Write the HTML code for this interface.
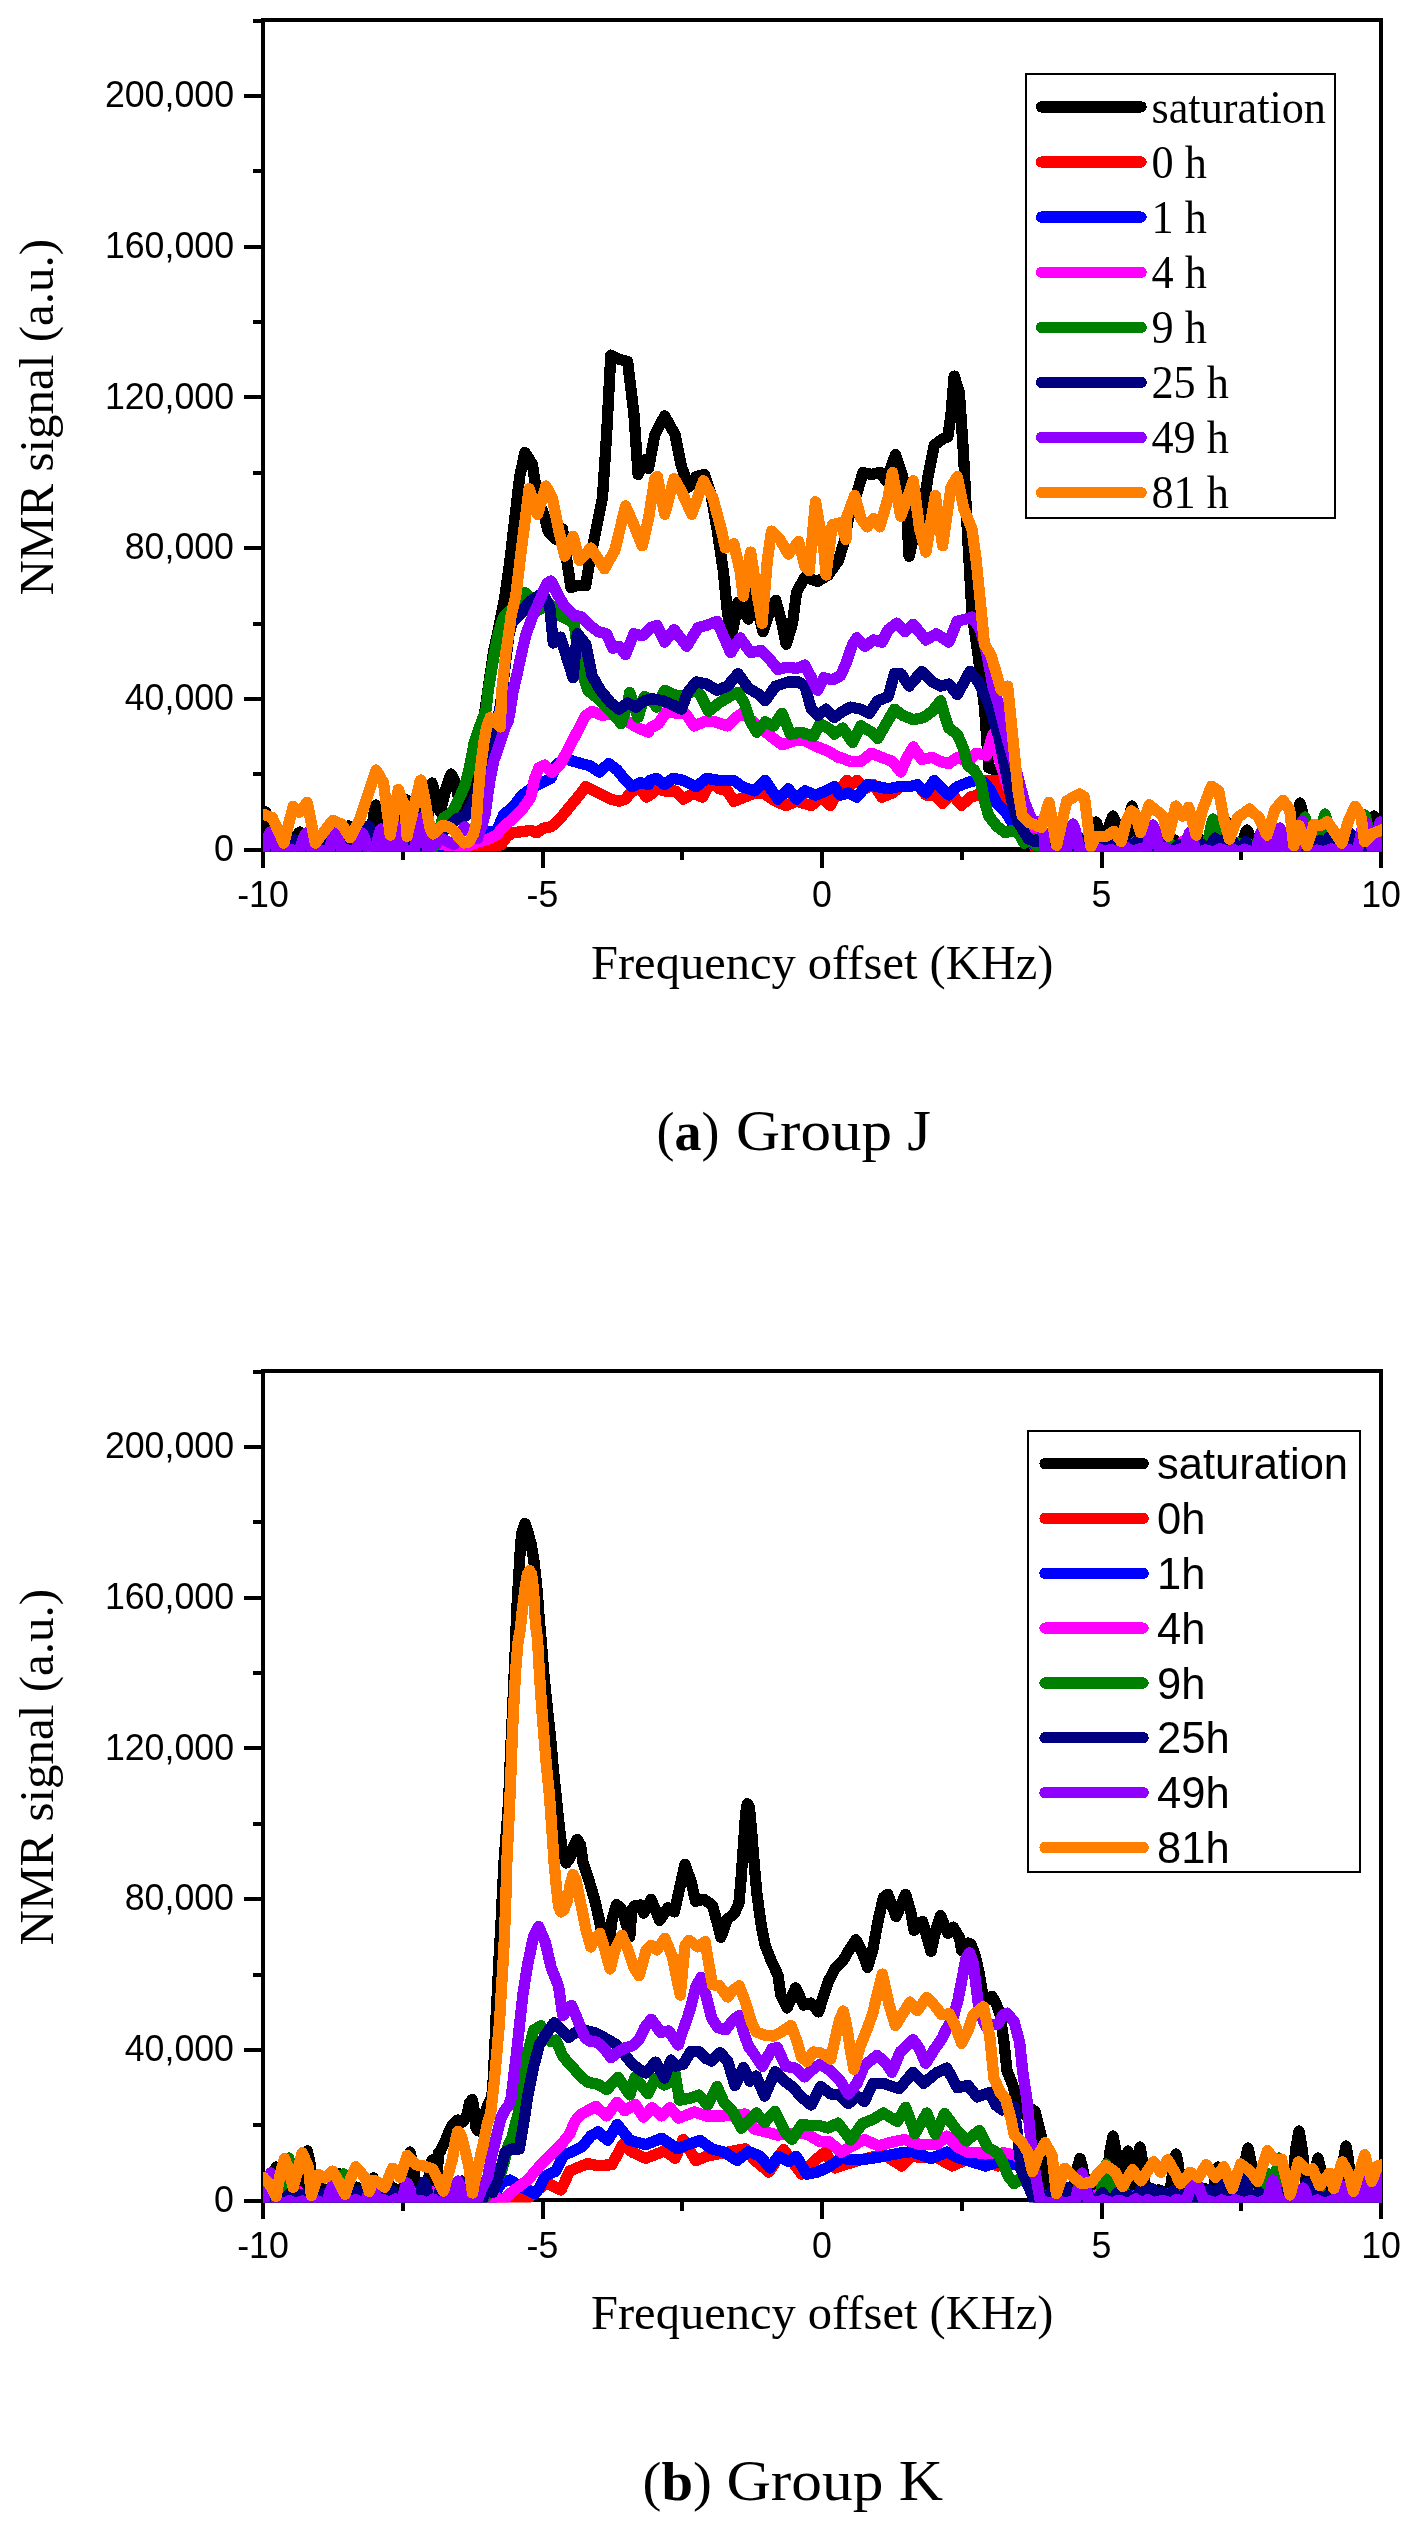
<!DOCTYPE html><html><head><meta charset="utf-8"><style>html,body{margin:0;padding:0;background:#fff;}svg{display:block;will-change:transform;}.tl{font-family:"Liberation Sans",sans-serif;font-size:37.5px;fill:#000;}.ls{font-family:"Liberation Sans",sans-serif;font-size:43.5px;fill:#000;}.lr{font-family:"Liberation Serif",serif;font-size:46px;fill:#000;}.at{font-family:"Liberation Serif",serif;font-size:48.5px;fill:#000;}.at2{font-family:"Liberation Serif",serif;font-size:49px;fill:#000;}.cap{font-family:"Liberation Serif",serif;font-size:54px;fill:#000;}.cap2{font-family:"Liberation Serif",serif;font-size:56.5px;fill:#000;}</style></head><body>
<svg xmlns="http://www.w3.org/2000/svg" width="1419" height="2530" viewBox="0 0 1419 2530" shape-rendering="crispEdges">
<rect width="1419" height="2530" fill="#fff"/>
<defs><clipPath id="c1"><rect x="263" y="20" width="1119" height="831.5"/></clipPath><clipPath id="c2"><rect x="263" y="1371" width="1119" height="831.5"/></clipPath></defs>
<rect x="263" y="20" width="1118" height="829.5" fill="none" stroke="#000" stroke-width="4"/>
<line x1="261" y1="849.5" x2="1383" y2="849.5" stroke="#000" stroke-width="5"/>
<line x1="244" y1="849.5" x2="263" y2="849.5" stroke="#000" stroke-width="4"/>
<line x1="253" y1="774.1" x2="263" y2="774.1" stroke="#000" stroke-width="4"/>
<line x1="244" y1="698.8" x2="263" y2="698.8" stroke="#000" stroke-width="4"/>
<line x1="253" y1="623.5" x2="263" y2="623.5" stroke="#000" stroke-width="4"/>
<line x1="244" y1="548.1" x2="263" y2="548.1" stroke="#000" stroke-width="4"/>
<line x1="253" y1="472.8" x2="263" y2="472.8" stroke="#000" stroke-width="4"/>
<line x1="244" y1="397.4" x2="263" y2="397.4" stroke="#000" stroke-width="4"/>
<line x1="253" y1="322.1" x2="263" y2="322.1" stroke="#000" stroke-width="4"/>
<line x1="244" y1="246.7" x2="263" y2="246.7" stroke="#000" stroke-width="4"/>
<line x1="253" y1="171.4" x2="263" y2="171.4" stroke="#000" stroke-width="4"/>
<line x1="244" y1="96.0" x2="263" y2="96.0" stroke="#000" stroke-width="4"/>
<line x1="253" y1="20.7" x2="263" y2="20.7" stroke="#000" stroke-width="4"/>
<line x1="263.0" y1="849.5" x2="263.0" y2="867.5" stroke="#000" stroke-width="4"/>
<line x1="402.8" y1="849.5" x2="402.8" y2="859.5" stroke="#000" stroke-width="4"/>
<line x1="542.5" y1="849.5" x2="542.5" y2="867.5" stroke="#000" stroke-width="4"/>
<line x1="682.2" y1="849.5" x2="682.2" y2="859.5" stroke="#000" stroke-width="4"/>
<line x1="822.0" y1="849.5" x2="822.0" y2="867.5" stroke="#000" stroke-width="4"/>
<line x1="961.8" y1="849.5" x2="961.8" y2="859.5" stroke="#000" stroke-width="4"/>
<line x1="1101.5" y1="849.5" x2="1101.5" y2="867.5" stroke="#000" stroke-width="4"/>
<line x1="1241.2" y1="849.5" x2="1241.2" y2="859.5" stroke="#000" stroke-width="4"/>
<line x1="1381.0" y1="849.5" x2="1381.0" y2="867.5" stroke="#000" stroke-width="4"/>
<text transform="translate(234,860.7) scale(0.953,1)" class="tl" text-anchor="end">0</text>
<text transform="translate(234,710.0) scale(0.953,1)" class="tl" text-anchor="end">40,000</text>
<text transform="translate(234,559.3) scale(0.953,1)" class="tl" text-anchor="end">80,000</text>
<text transform="translate(234,408.6) scale(0.953,1)" class="tl" text-anchor="end">120,000</text>
<text transform="translate(234,257.9) scale(0.953,1)" class="tl" text-anchor="end">160,000</text>
<text transform="translate(234,107.2) scale(0.953,1)" class="tl" text-anchor="end">200,000</text>
<text transform="translate(263.0,906.6) scale(0.953,1)" class="tl" text-anchor="middle">-10</text>
<text transform="translate(542.5,906.6) scale(0.953,1)" class="tl" text-anchor="middle">-5</text>
<text transform="translate(822.0,906.6) scale(0.953,1)" class="tl" text-anchor="middle">0</text>
<text transform="translate(1101.5,906.6) scale(0.953,1)" class="tl" text-anchor="middle">5</text>
<text transform="translate(1381.0,906.6) scale(0.953,1)" class="tl" text-anchor="middle">10</text>
<g clip-path="url(#c1)" fill="none" stroke-width="11.3" stroke-linejoin="round" stroke-linecap="round" shape-rendering="crispEdges">
<path d="M260.7,840.5 263.9,819.1 265.7,812.0 267.4,819.1 270.7,840.5 275.4,836.0 281.2,839.9 288.2,837.2 292.5,839.7 294.0,840.5 297.9,834.1 300.0,832.0 302.1,834.1 306.0,840.5 309.3,836.8 316.9,839.7 321.2,837.4 327.4,839.7 332.9,836.9 338.6,840.5 342.7,840.5 346.6,829.6 348.7,826.0 350.8,829.6 354.7,840.5 360.5,840.2 364.8,835.0 370.0,840.5 373.9,813.9 376.0,805.0 378.1,813.9 382.0,840.5 383.2,840.4 388.6,835.3 395.3,839.7 401.0,835.0 402.0,840.5 405.2,810.1 407.0,800.0 408.8,810.1 412.0,840.5 414.0,834.9 416.0,840.5 419.2,819.1 421.0,812.0 422.8,819.1 426.0,840.5 432.0,783.0 436.0,797.0 440.0,812.0 443.0,801.0 446.0,788.0 451.0,774.0 455.0,781.0 458.0,796.0 461.0,811.0 465.0,810.0 470.0,795.0 473.5,781.0 477.0,765.0 480.0,745.0 483.0,724.0 486.5,700.0 490.0,676.0 493.5,652.0 497.0,636.0 500.4,619.0 505.0,596.0 510.0,560.0 519.7,476.6 524.9,452.5 532.3,464.1 537.5,497.6 543.8,514.3 548.0,531.1 556.4,539.5 562.6,529.0 566.8,560.4 571.0,587.7 577.3,585.6 585.7,585.6 589.9,560.4 596.2,529.0 602.5,497.6 606.6,434.7 610.8,355.1 619.2,359.3 627.6,361.4 633.9,413.8 638.1,474.5 644.3,459.9 648.5,468.3 654.8,434.7 664.7,415.9 675.1,434.7 681.4,466.2 688.8,487.1 696.1,476.6 704.5,474.5 710.8,493.4 717.0,529.0 723.3,570.9 727.5,612.8 731.7,635.8 738.0,602.3 744.3,612.8 748.5,619.1 752.6,591.9 763.1,631.7 771.5,606.5 775.7,600.2 782.0,623.3 786.2,644.2 792.5,623.3 796.6,591.9 805.0,577.2 817.6,581.4 828.1,575.1 838.5,560.4 844.8,539.5 848.4,518.5 856.8,493.4 863.0,472.5 871.4,474.5 879.8,472.5 886.1,480.8 895.5,454.6 902.8,476.6 907.0,518.5 909.1,556.2 915.4,529.0 921.7,518.5 928.0,476.6 934.3,445.2 942.6,438.9 947.9,436.8 951.0,413.8 954.2,376.1 959.4,392.8 963.6,455.7 967.8,539.5 972.0,612.8 978.3,656.8 984.5,707.1 988.7,767.8 995.0,769.9 1003.4,790.9 1011.8,811.8 1022.3,832.8 1034.8,843.2 1040.0,838.6 1047.0,843.5 1051.1,838.9 1057.4,843.0 1062.3,839.5 1068.1,843.1 1072.5,839.9 1077.6,843.0 1084.8,838.6 1089.0,843.5 1093.5,827.4 1096.0,822.0 1098.5,827.4 1103.0,843.5 1104.0,840.0 1105.0,843.5 1110.2,822.9 1113.0,816.0 1115.8,822.9 1121.0,843.5 1124.7,839.7 1125.0,843.5 1129.5,815.4 1132.0,806.0 1134.5,815.4 1139.0,843.5 1142.8,842.9 1149.6,839.1 1156.1,843.2 1163.2,838.6 1167.5,842.9 1173.8,839.8 1179.4,843.1 1186.3,839.7 1192.9,843.2 1199.6,838.8 1205.0,843.1 1211.9,839.2 1217.3,843.3 1222.0,843.5 1225.2,827.4 1227.0,822.0 1228.8,827.4 1232.0,843.5 1236.3,842.8 1242.0,843.5 1245.2,833.4 1247.0,830.0 1248.8,833.4 1252.0,843.5 1253.8,840.2 1258.3,843.1 1265.3,839.4 1269.4,842.9 1275.6,838.7 1280.1,842.9 1284.1,839.4 1288.9,843.3 1292.0,843.5 1297.2,813.1 1300.0,803.0 1302.8,813.1 1308.0,843.5 1312.6,843.2 1318.8,840.9 1323.9,843.4 1329.9,840.8 1336.9,843.5 1343.2,840.9 1347.9,842.9 1352.3,840.5 1358.4,843.2 1362.4,838.5 1366.7,843.5 1368.0,843.5 1371.9,822.9 1374.0,816.0 1376.1,822.9 1380.0,843.5 1383.0,840.9" stroke="#000000"/>
<path d="M263.0,847.0 269.1,849.1 275.8,847.1 280.4,849.4 285.0,846.0 289.2,849.2 293.8,846.9 299.1,849.0 304.9,847.5 309.7,849.4 316.4,845.9 322.9,849.0 329.2,845.6 335.7,849.3 342.4,846.5 348.7,849.2 354.0,846.8 359.2,849.3 363.5,845.9 370.0,848.9 376.1,846.4 382.4,849.4 388.5,846.6 392.9,849.4 398.5,847.0 403.9,849.1 409.0,847.2 414.5,849.4 419.1,847.1 424.2,849.5 430.2,845.6 435.3,849.1 442.2,847.4 446.6,849.0 453.2,846.2 457.6,849.3 464.3,845.7 477.4,849.3 486.9,848.2 501.1,844.6 507.1,836.3 513.0,832.7 522.5,831.6 530.8,830.4 536.7,832.7 543.8,828.0 551.0,826.8 558.1,820.9 579.4,795.1 585.7,786.7 594.1,790.9 602.5,795.1 610.8,799.2 619.2,801.3 625.5,799.2 631.8,790.9 640.2,788.8 646.4,797.2 652.7,793.0 656.3,788.8 664.7,790.9 675.1,790.9 683.5,799.2 694.0,793.0 702.4,797.2 711.8,780.4 719.1,788.8 727.5,790.9 733.8,801.3 744.3,797.2 754.7,793.0 763.1,793.0 775.7,801.3 786.2,805.5 796.6,801.3 811.3,805.5 821.8,797.2 830.2,805.5 838.5,790.9 846.9,780.4 848.4,786.7 856.8,780.4 865.1,788.8 873.5,784.6 881.9,797.2 892.4,793.0 900.8,786.7 909.1,786.7 917.5,784.6 925.9,795.1 934.3,795.1 942.6,803.4 951.0,793.0 961.5,805.5 969.9,797.2 978.3,795.1 986.6,780.4 995.0,780.4 1003.4,795.1 1011.8,811.8 1020.2,828.6 1028.5,839.0 1035.0,847.3 1041.2,849.1 1048.1,847.0 1052.8,849.1 1058.8,846.9 1064.9,849.3 1071.4,847.3 1075.9,849.0 1081.0,847.0 1087.5,849.1 1091.8,846.4 1097.9,849.4 1103.9,847.3 1108.8,849.5 1113.4,845.5 1118.5,848.9 1123.8,846.3 1130.6,849.1 1134.8,846.3 1140.7,849.4 1144.9,845.8 1150.4,849.4 1155.8,847.1 1162.3,849.2 1166.4,845.9 1170.6,849.3 1174.5,846.0 1178.8,849.2 1182.9,846.5 1189.0,849.2 1194.4,846.5 1199.7,849.1 1203.8,846.6 1208.5,849.0 1215.4,847.4 1219.7,849.1 1225.5,847.5 1231.7,848.9 1236.9,846.8 1242.6,848.9 1247.3,846.9 1251.8,849.1 1257.2,847.0 1262.3,849.5 1267.2,845.5 1273.0,849.3 1280.0,846.8 1284.6,849.5 1289.0,847.1 1293.6,849.0 1298.3,847.0 1304.1,848.9 1309.0,846.0 1314.0,849.2 1319.8,845.6 1326.2,849.2 1332.8,846.8 1337.9,848.9 1343.6,846.0 1348.5,849.0 1354.3,847.0 1361.3,849.2 1366.2,847.0 1370.4,849.4 1376.6,847.2 1381.3,849.2" stroke="#ff0000"/>
<path d="M263.0,845.1 268.7,848.7 274.1,845.0 279.9,849.3 285.4,844.6 291.9,849.4 296.7,846.2 303.3,848.9 307.2,843.6 314.3,848.9 320.2,846.0 324.1,849.0 328.1,845.9 332.7,849.5 338.1,845.2 344.8,849.0 350.7,845.0 356.8,849.1 361.5,843.5 368.7,848.7 374.8,845.6 379.5,849.2 383.5,844.2 388.7,848.7 393.8,843.6 400.5,849.5 405.0,843.8 410.4,848.6 415.6,846.3 421.5,848.8 426.3,846.2 431.2,848.6 437.6,846.1 442.2,849.4 446.3,844.1 450.7,849.0 456.0,845.9 465.6,847.0 483.4,832.7 491.7,831.6 496.4,831.6 503.5,815.0 513.0,806.7 522.5,794.8 530.8,788.9 536.7,785.3 543.8,781.7 551.0,778.2 556.9,764.0 566.4,759.2 581.5,763.6 589.9,765.7 599.3,772.0 608.7,763.6 617.1,769.9 625.5,780.4 631.8,786.7 640.2,782.5 648.5,784.6 650.0,780.4 656.3,778.3 664.7,784.6 673.0,778.3 683.5,780.4 696.1,786.7 706.6,778.3 719.1,780.4 733.8,780.4 742.2,786.7 754.7,790.9 765.2,780.4 777.8,799.2 788.3,788.8 796.6,799.2 805.0,790.9 815.5,795.1 826.0,790.9 834.3,786.7 840.0,795.1 848.4,793.0 856.8,797.2 867.2,784.6 877.7,786.7 888.2,788.8 898.7,786.7 909.1,786.7 917.5,784.6 925.9,793.0 934.3,780.4 942.6,788.8 948.9,795.1 957.3,786.7 967.8,782.5 976.2,780.4 984.5,782.5 990.8,790.9 997.1,803.4 1005.5,811.8 1011.8,822.3 1020.2,834.9 1028.5,841.1 1035.0,845.1 1041.0,848.9 1045.3,846.5 1050.4,849.3 1057.0,844.4 1062.8,849.0 1068.8,846.1 1074.1,849.4 1081.0,846.3 1087.5,849.4 1093.6,845.5 1098.8,848.7 1102.7,846.3 1109.6,849.0 1113.7,843.5 1120.7,849.4 1126.0,846.1 1130.8,848.9 1135.2,844.4 1139.3,849.3 1145.8,845.3 1151.0,849.0 1156.5,845.3 1160.4,848.8 1167.4,843.6 1173.5,849.2 1178.5,844.4 1184.6,849.4 1189.2,845.4 1194.8,848.8 1200.3,846.4 1206.8,849.1 1212.4,845.8 1217.7,849.2 1224.1,846.2 1229.7,849.3 1235.9,846.4 1240.6,849.2 1246.6,846.3 1251.9,849.3 1256.7,845.1 1263.7,849.1 1270.7,846.0 1277.6,849.2 1282.1,844.3 1289.0,849.5 1293.7,844.2 1298.7,849.3 1302.6,846.4 1308.5,848.6 1315.6,845.0 1319.5,849.2 1326.0,844.0 1331.9,849.3 1337.5,845.1 1343.5,849.3 1350.4,843.8 1354.8,849.2 1361.5,845.7 1368.5,849.0 1374.7,844.4 1379.2,849.2 1383.9,844.5" stroke="#0000ff"/>
<path d="M263.0,843.5 268.5,851.3 275.9,846.0 281.9,850.0 286.4,843.0 292.8,851.4 298.3,842.1 304.2,850.3 308.9,844.7 313.5,850.7 321.1,842.8 328.1,850.9 334.9,845.4 340.2,850.4 347.0,843.7 351.5,851.1 356.5,844.5 363.6,851.2 371.0,841.2 375.4,850.9 381.3,845.9 387.1,850.0 391.7,842.7 396.3,850.5 403.7,844.9 408.0,851.4 414.1,845.9 418.6,850.7 426.1,843.7 431.8,850.4 436.3,842.8 441.9,844.6 465.6,847.0 477.4,842.2 489.3,838.7 496.4,835.1 503.5,826.8 513.0,818.5 522.5,809.0 530.8,797.2 534.4,779.4 539.1,767.5 545.0,765.1 552.1,772.3 560.4,764.0 585.7,715.5 592.0,711.3 602.5,715.5 610.8,713.4 619.2,715.5 627.6,721.7 638.1,728.0 648.5,732.2 650.0,728.0 658.4,723.8 666.8,711.3 677.2,713.4 685.6,713.4 694.0,725.9 704.5,721.7 714.9,721.7 727.5,725.9 735.9,717.5 742.2,713.4 750.6,719.6 763.1,730.1 773.6,738.5 782.0,744.8 794.5,740.6 805.0,740.6 817.6,746.9 828.1,751.1 838.5,757.4 840.0,757.4 850.5,761.5 860.9,761.5 871.4,753.2 881.9,757.4 892.4,761.5 900.8,772.0 907.0,757.4 913.3,746.9 921.7,759.4 932.2,757.4 940.6,761.5 948.9,763.6 957.3,757.4 967.8,761.5 976.2,753.2 986.6,755.3 992.9,734.3 999.2,759.4 1007.6,786.7 1018.1,807.6 1028.5,822.3 1036.9,832.8 1040.1,841.5 1042.0,842.9 1047.7,850.5 1052.7,841.5 1059.9,850.4 1064.6,843.1 1070.0,851.1 1077.6,840.5 1082.0,850.1 1088.4,843.9 1093.6,850.4 1099.4,842.2 1106.0,851.3 1113.0,840.6 1120.7,850.5 1125.0,846.0 1127.0,851.5 1132.2,844.4 1135.0,842.0 1137.8,844.4 1143.0,851.5 1148.6,843.6 1152.0,851.5 1157.2,845.1 1160.0,843.0 1162.8,845.1 1168.0,851.5 1169.6,843.3 1176.8,850.4 1182.9,841.3 1187.6,850.6 1193.2,842.7 1197.8,850.2 1202.3,845.1 1209.4,849.9 1215.2,843.7 1220.3,851.0 1226.7,845.0 1231.3,850.7 1236.1,842.4 1243.3,850.2 1249.2,844.1 1255.0,851.5 1261.7,844.2 1267.1,851.4 1272.9,842.8 1278.5,850.1 1285.1,844.7 1291.2,850.0 1297.3,842.7 1301.7,850.7 1307.6,843.8 1313.3,850.5 1314.0,851.5 1317.9,846.6 1320.0,845.0 1322.1,846.6 1326.0,851.5 1331.9,843.7 1336.3,851.5 1342.4,845.7 1346.9,851.3 1352.7,840.5 1358.7,850.7 1364.5,843.2 1370.3,850.3 1377.7,842.2 1383.4,850.4" stroke="#ff00ff"/>
<path d="M263.0,844.2 268.1,848.7 273.0,843.4 278.9,849.4 285.5,845.4 291.7,849.4 296.6,843.8 304.4,849.4 309.8,843.0 318.1,848.8 324.2,841.6 328.9,848.5 334.0,849.5 337.9,846.1 340.0,845.0 342.1,846.1 346.0,849.5 347.3,844.8 354.1,848.7 360.1,843.3 364.9,849.4 370.3,842.8 376.5,849.1 381.0,849.5 384.2,846.9 386.0,846.0 387.8,846.9 391.0,849.5 394.0,849.5 396.6,831.9 398.0,826.0 399.4,831.9 402.0,849.5 403.1,848.9 411.1,842.6 416.8,848.3 421.8,843.8 429.3,849.3 435.7,845.3 441.9,820.9 443.6,818.0 451.2,813.3 456.0,805.0 460.0,796.4 465.0,785.0 469.3,768.2 474.4,741.8 481.0,723.0 486.0,710.2 488.1,691.2 491.2,672.2 494.4,653.3 498.2,634.3 503.0,618.0 510.0,610.0 517.0,603.0 520.1,599.1 524.9,592.6 530.8,597.9 536.7,611.0 543.8,607.4 550.1,604.4 558.5,614.9 566.8,619.1 574.2,623.3 579.4,665.2 587.8,690.3 598.3,698.7 610.8,711.3 621.3,723.8 627.6,702.9 629.7,692.4 638.1,717.5 644.3,696.6 652.7,700.8 656.3,707.1 664.7,690.3 673.0,694.5 683.5,696.6 694.0,690.3 700.3,694.5 708.7,711.3 719.1,702.9 729.6,696.6 738.0,692.4 744.3,702.9 750.6,721.7 756.8,732.2 765.2,721.7 773.6,725.9 782.0,713.4 790.4,734.3 800.8,732.2 813.4,736.4 819.7,723.8 828.1,728.0 834.3,734.3 842.7,728.0 852.6,742.7 860.9,725.9 871.4,732.2 877.7,738.5 886.1,723.8 894.5,709.2 902.8,715.5 913.3,719.6 923.8,717.5 932.2,711.3 940.6,700.8 944.7,715.5 948.9,728.0 957.3,734.3 963.6,749.0 967.8,765.7 974.1,769.9 980.4,780.4 984.5,801.3 988.7,816.0 997.1,826.5 1005.5,832.8 1011.8,830.7 1018.1,832.8 1024.3,843.2 1033.8,838.9 1035.0,844.6 1043.3,849.3 1050.6,845.2 1056.1,848.3 1061.5,842.9 1067.8,849.0 1074.3,844.7 1082.1,849.4 1087.6,845.4 1093.1,849.0 1101.2,844.0 1106.2,849.2 1114.6,845.2 1121.6,849.0 1128.7,844.1 1136.0,848.9 1143.1,841.9 1149.9,849.3 1154.7,841.7 1161.1,849.3 1169.4,843.2 1176.8,848.4 1182.4,844.1 1190.4,849.3 1197.9,845.1 1205.2,848.7 1207.0,849.5 1210.9,826.6 1213.0,819.0 1215.1,826.6 1219.0,849.5 1219.9,849.3 1225.1,843.4 1231.6,849.4 1239.7,843.5 1247.0,849.2 1252.5,845.5 1258.4,849.2 1264.6,844.0 1272.4,848.4 1277.6,843.9 1282.8,848.7 1291.1,844.7 1297.0,849.5 1302.2,825.1 1305.0,817.0 1307.8,825.1 1313.0,849.5 1315.4,844.6 1317.0,849.5 1322.2,822.9 1325.0,814.0 1327.8,822.9 1333.0,849.5 1333.4,849.4 1338.3,845.1 1344.9,849.1 1352.6,843.5 1359.0,849.5 1362.9,823.6 1365.0,815.0 1367.1,823.6 1371.0,849.5 1376.6,842.5 1382.5,848.3" stroke="#008000"/>
<path d="M263.0,839.5 269.9,850.6 277.5,838.6 285.0,852.4 287.2,852.5 292.4,843.1 295.2,840.0 298.0,843.1 303.2,852.5 307.1,851.2 313.4,844.4 318.3,851.8 325.8,838.4 330.6,850.6 335.3,839.6 340.0,852.5 347.3,842.8 352.3,850.1 359.6,842.2 360.8,852.5 366.0,832.6 368.8,826.0 371.6,832.6 376.8,852.5 381.5,850.8 389.2,837.4 394.5,851.6 399.3,843.3 403.7,851.8 410.1,844.5 416.7,851.7 422.0,838.0 428.0,851.7 433.9,838.9 441.9,832.7 457.3,818.5 465.6,816.1 477.4,791.2 485.7,761.6 487.0,760.0 493.0,738.0 500.0,708.0 503.0,685.0 505.0,667.0 507.0,650.0 509.0,635.0 512.0,622.0 522.5,612.0 528.0,603.0 535.0,598.0 542.7,593.2 549.8,607.4 553.3,643.0 560.4,637.1 573.1,677.7 577.3,633.8 585.7,644.2 592.0,675.7 600.4,690.3 610.8,702.9 619.2,709.2 627.6,702.9 636.0,707.1 644.3,700.8 652.7,698.7 662.6,700.8 673.0,705.0 681.4,709.2 687.7,692.4 696.1,681.9 706.6,684.0 717.0,690.3 727.5,686.1 738.0,673.6 748.5,688.2 758.9,694.5 765.2,700.8 775.7,686.1 788.3,681.9 798.7,681.9 805.0,686.1 811.3,709.2 817.6,715.5 826.0,709.2 834.3,717.5 842.7,711.3 850.5,707.1 860.9,709.2 869.3,713.4 877.7,700.8 888.2,696.6 894.5,673.6 900.8,673.6 909.1,686.1 921.7,671.5 932.2,681.9 940.6,686.1 948.9,684.0 957.3,694.5 969.9,671.5 978.3,681.9 986.6,698.7 992.9,717.5 999.2,738.5 1005.5,769.9 1011.8,801.3 1018.1,822.3 1028.5,839.0 1035.1,841.5 1040.0,838.2 1047.2,851.3 1052.3,844.5 1058.9,851.4 1065.8,841.5 1072.8,851.8 1079.9,838.7 1085.6,851.2 1092.2,843.0 1098.4,850.6 1103.6,838.1 1110.2,850.5 1115.7,843.8 1122.7,850.6 1128.5,843.7 1132.0,852.5 1137.2,841.6 1140.0,838.0 1142.8,841.6 1148.0,852.5 1151.6,841.6 1154.0,852.5 1157.9,841.6 1160.0,838.0 1162.1,841.6 1166.0,852.5 1171.9,850.6 1179.6,844.3 1185.1,851.1 1190.4,839.8 1194.9,850.4 1201.0,843.6 1207.6,851.8 1209.0,852.5 1212.9,841.6 1215.0,838.0 1217.1,841.6 1221.0,852.5 1224.5,838.9 1228.8,850.6 1233.0,841.8 1240.5,851.0 1245.8,841.5 1251.4,852.2 1259.2,844.1 1264.9,850.7 1270.5,836.7 1275.6,850.1 1283.0,839.1 1290.4,851.4 1297.6,838.1 1303.7,851.4 1310.4,841.2 1314.9,850.7 1320.1,840.6 1324.0,852.5 1327.9,840.1 1330.0,836.0 1332.1,840.1 1336.0,852.5 1337.7,851.6 1342.8,840.9 1344.0,852.5 1347.9,837.9 1350.0,833.0 1352.1,837.9 1356.0,852.5 1356.1,837.5 1362.5,851.9 1368.4,840.7 1373.1,851.6 1378.4,838.1 1383.8,850.9" stroke="#000080"/>
<path d="M263.0,849.4 263.4,852.5 267.9,837.1 270.4,832.0 272.8,837.1 277.4,852.5 277.6,848.4 282.8,852.5 291.2,849.4 297.1,851.8 298.9,852.5 303.4,837.9 305.9,833.0 308.3,837.9 312.9,852.5 316.4,848.4 325.0,852.1 328.3,852.5 332.9,837.1 335.3,832.0 337.8,837.1 342.3,852.5 345.5,849.2 350.5,851.9 355.1,852.5 359.7,837.9 362.1,833.0 364.6,837.9 369.1,852.5 374.8,849.0 374.9,852.5 378.8,834.9 380.9,829.0 383.0,834.9 386.9,852.5 391.9,847.8 392.3,852.5 396.2,834.1 398.3,828.0 400.4,834.1 404.3,852.5 409.7,852.0 414.0,852.5 418.6,826.6 421.0,818.0 423.4,826.6 428.0,852.5 429.1,841.8 430.0,847.0 441.9,838.7 453.7,844.6 464.4,826.8 477.4,838.7 482.0,825.0 485.3,813.3 487.5,796.4 490.0,780.0 494.0,760.0 500.4,741.8 504.0,730.0 508.3,721.0 510.2,710.2 513.1,691.2 517.5,672.2 521.6,653.3 526.0,634.3 533.0,615.3 538.5,603.0 544.0,590.0 547.5,583.0 551.0,581.0 558.5,596.0 564.7,606.5 573.1,614.9 581.5,617.0 589.9,625.4 598.3,631.7 606.6,633.8 612.9,648.4 619.2,646.3 625.5,654.7 633.9,633.8 642.3,635.8 650.6,627.5 656.9,625.4 664.7,642.1 674.1,629.6 686.7,646.3 698.2,627.5 706.6,625.4 717.0,621.2 723.3,635.8 730.7,652.6 740.1,637.9 750.6,652.6 761.0,650.5 769.4,658.9 777.8,669.4 786.2,667.3 796.6,668.3 805.0,665.2 811.3,677.7 817.6,690.3 823.9,677.7 832.3,679.8 840.6,675.7 846.9,661.0 852.6,644.2 856.8,637.9 865.1,646.3 873.5,640.0 881.9,642.1 888.2,629.6 896.6,623.3 904.9,631.7 913.3,624.3 925.9,640.0 936.4,633.8 948.9,642.1 957.3,621.2 965.7,619.1 972.0,617.0 980.4,629.6 986.6,652.6 992.9,686.1 999.2,707.1 1005.5,732.2 1016.0,769.9 1024.3,801.3 1032.7,822.3 1037.6,821.2 1044.0,833.9 1045.0,849.4 1050.3,852.2 1055.9,849.8 1062.5,851.8 1066.0,852.5 1070.5,831.1 1073.0,824.0 1075.5,831.1 1080.0,852.5 1082.6,849.6 1088.0,852.3 1096.8,847.9 1105.1,851.9 1110.8,849.2 1118.3,852.0 1126.8,847.8 1132.1,852.0 1139.8,848.7 1145.4,852.1 1146.0,852.5 1150.5,831.9 1153.0,825.0 1155.5,831.9 1160.0,852.5 1165.4,847.7 1172.7,851.8 1181.2,848.7 1184.0,852.5 1187.9,837.1 1190.0,832.0 1192.1,837.1 1196.0,852.5 1200.7,851.9 1205.8,849.9 1213.3,852.3 1220.4,848.8 1226.8,851.8 1232.5,849.0 1238.3,852.0 1244.3,849.1 1252.4,852.3 1256.0,852.5 1259.9,835.6 1262.0,830.0 1264.1,835.6 1268.0,852.5 1270.8,848.1 1274.0,852.5 1277.9,834.1 1280.0,828.0 1282.1,834.1 1286.0,852.5 1291.4,852.5 1295.0,852.5 1299.5,828.9 1302.0,821.0 1304.5,828.9 1309.0,852.5 1317.1,850.0 1323.2,851.8 1331.3,849.0 1340.2,852.0 1348.5,849.3 1354.2,852.2 1357.0,852.5 1362.2,828.9 1365.0,821.0 1367.8,828.9 1373.0,852.5 1373.6,849.9 1375.0,852.5 1378.2,829.6 1380.0,822.0 1381.8,829.6 1385.0,852.5" stroke="#9000ff"/>
<path d="M263.7,814.3 272.4,817.7 283.8,843.1 293.2,806.3 299.2,812.3 307.2,802.3 315.3,843.1 332.7,820.3 342.0,824.4 350.1,837.8 359.4,820.3 366.1,800.3 376.2,770.1 383.5,782.8 390.2,835.1 398.3,789.5 405.0,807.0 407.0,836.4 420.4,780.2 421.0,780.0 424.0,795.0 427.0,812.0 430.0,828.0 433.0,834.0 436.0,832.0 441.0,826.0 446.0,826.0 451.0,828.0 455.0,832.0 459.0,838.0 464.0,843.0 469.0,842.0 473.5,834.0 476.5,822.0 477.0,810.0 478.0,796.0 480.5,768.0 484.0,741.8 486.5,728.0 490.0,718.0 494.0,718.5 497.5,724.0 500.0,712.0 500.4,727.0 501.7,691.2 503.9,672.2 505.8,653.3 508.7,634.3 511.2,615.3 515.6,596.3 516.6,589.6 520.1,560.0 529.1,488.8 537.5,514.3 545.9,486.1 552.2,497.6 558.5,529.0 564.7,556.2 573.1,536.3 579.4,560.4 590.9,547.9 604.5,568.8 615.0,550.0 625.5,506.0 633.9,524.8 642.3,545.8 648.5,518.5 654.8,478.7 657.3,476.6 664.7,514.3 674.1,478.7 681.4,491.3 691.9,514.3 703.4,480.8 712.8,497.6 721.2,529.0 725.4,547.9 733.8,543.7 740.1,570.9 743.2,596.0 750.6,552.1 756.8,591.9 762.1,623.3 767.3,560.4 771.5,531.1 779.9,539.5 788.3,554.1 798.7,541.6 805.0,566.7 809.2,570.9 815.5,501.8 823.9,550.0 826.0,575.1 832.3,524.8 840.6,522.7 845.9,539.5 846.3,518.5 854.7,495.5 860.9,518.5 867.2,526.9 873.5,518.5 879.8,526.9 888.2,497.6 892.4,472.5 900.8,516.4 913.3,480.8 919.6,529.0 925.9,552.1 935.3,495.5 942.6,545.8 951.0,487.1 957.3,476.6 963.6,508.1 972.0,529.0 976.2,560.4 980.4,602.3 984.5,644.2 990.8,654.7 997.1,675.7 1001.3,690.3 1007.6,686.1 1009.7,707.1 1013.9,749.0 1018.1,790.9 1022.3,816.0 1028.5,822.3 1041.4,827.5 1049.0,802.2 1056.6,845.3 1066.8,800.9 1079.5,793.9 1084.5,797.1 1088.4,828.8 1090.9,846.6 1096.0,836.4 1106.1,836.4 1113.7,831.3 1121.3,841.5 1126.4,821.2 1131.5,811.0 1135.3,813.6 1140.4,832.6 1149.2,804.7 1156.9,811.0 1163.2,816.1 1168.3,836.4 1175.9,806.0 1182.2,816.1 1188.6,807.2 1196.2,835.1 1202.5,809.8 1211.4,786.2 1218.7,790.9 1224.1,820.3 1229.5,839.1 1237.5,817.7 1249.5,809.0 1258.9,817.7 1267.0,835.1 1275.0,809.6 1283.0,800.3 1289.7,809.6 1293.7,845.8 1299.1,825.7 1307.1,845.8 1313.8,824.4 1320.5,825.7 1327.2,821.7 1333.9,831.1 1341.9,843.1 1348.6,820.3 1355.3,806.3 1360.7,815.0 1364.7,841.8 1372.7,833.7 1382.1,829.7" stroke="#ff8000"/>
</g>
<rect x="263" y="1371" width="1118" height="829.0" fill="none" stroke="#000" stroke-width="4"/>
<line x1="261" y1="2200.0" x2="1383" y2="2200.0" stroke="#000" stroke-width="4"/>
<line x1="244" y1="2200.5" x2="263" y2="2200.5" stroke="#000" stroke-width="4"/>
<line x1="253" y1="2125.2" x2="263" y2="2125.2" stroke="#000" stroke-width="4"/>
<line x1="244" y1="2049.8" x2="263" y2="2049.8" stroke="#000" stroke-width="4"/>
<line x1="253" y1="1974.5" x2="263" y2="1974.5" stroke="#000" stroke-width="4"/>
<line x1="244" y1="1899.1" x2="263" y2="1899.1" stroke="#000" stroke-width="4"/>
<line x1="253" y1="1823.8" x2="263" y2="1823.8" stroke="#000" stroke-width="4"/>
<line x1="244" y1="1748.4" x2="263" y2="1748.4" stroke="#000" stroke-width="4"/>
<line x1="253" y1="1673.1" x2="263" y2="1673.1" stroke="#000" stroke-width="4"/>
<line x1="244" y1="1597.7" x2="263" y2="1597.7" stroke="#000" stroke-width="4"/>
<line x1="253" y1="1522.3" x2="263" y2="1522.3" stroke="#000" stroke-width="4"/>
<line x1="244" y1="1447.0" x2="263" y2="1447.0" stroke="#000" stroke-width="4"/>
<line x1="253" y1="1371.7" x2="263" y2="1371.7" stroke="#000" stroke-width="4"/>
<line x1="263.0" y1="2200.5" x2="263.0" y2="2218.5" stroke="#000" stroke-width="4"/>
<line x1="402.8" y1="2200.5" x2="402.8" y2="2210.5" stroke="#000" stroke-width="4"/>
<line x1="542.5" y1="2200.5" x2="542.5" y2="2218.5" stroke="#000" stroke-width="4"/>
<line x1="682.2" y1="2200.5" x2="682.2" y2="2210.5" stroke="#000" stroke-width="4"/>
<line x1="822.0" y1="2200.5" x2="822.0" y2="2218.5" stroke="#000" stroke-width="4"/>
<line x1="961.8" y1="2200.5" x2="961.8" y2="2210.5" stroke="#000" stroke-width="4"/>
<line x1="1101.5" y1="2200.5" x2="1101.5" y2="2218.5" stroke="#000" stroke-width="4"/>
<line x1="1241.2" y1="2200.5" x2="1241.2" y2="2210.5" stroke="#000" stroke-width="4"/>
<line x1="1381.0" y1="2200.5" x2="1381.0" y2="2218.5" stroke="#000" stroke-width="4"/>
<text transform="translate(234,2211.7) scale(0.953,1)" class="tl" text-anchor="end">0</text>
<text transform="translate(234,2061.0) scale(0.953,1)" class="tl" text-anchor="end">40,000</text>
<text transform="translate(234,1910.3) scale(0.953,1)" class="tl" text-anchor="end">80,000</text>
<text transform="translate(234,1759.6) scale(0.953,1)" class="tl" text-anchor="end">120,000</text>
<text transform="translate(234,1608.9) scale(0.953,1)" class="tl" text-anchor="end">160,000</text>
<text transform="translate(234,1458.2) scale(0.953,1)" class="tl" text-anchor="end">200,000</text>
<text transform="translate(263.0,2257.6) scale(0.953,1)" class="tl" text-anchor="middle">-10</text>
<text transform="translate(542.5,2257.6) scale(0.953,1)" class="tl" text-anchor="middle">-5</text>
<text transform="translate(822.0,2257.6) scale(0.953,1)" class="tl" text-anchor="middle">0</text>
<text transform="translate(1101.5,2257.6) scale(0.953,1)" class="tl" text-anchor="middle">5</text>
<text transform="translate(1381.0,2257.6) scale(0.953,1)" class="tl" text-anchor="middle">10</text>
<g clip-path="url(#c2)" fill="none" stroke-width="11.3" stroke-linejoin="round" stroke-linecap="round" shape-rendering="crispEdges">
<path d="M263.0,2188.0 269.7,2190.9 270.1,2191.5 274.0,2173.1 276.1,2167.0 278.2,2173.1 282.1,2191.5 282.7,2190.8 288.7,2187.0 293.8,2191.5 299.3,2186.7 300.2,2191.5 304.8,2161.1 307.2,2151.0 309.6,2161.1 314.2,2191.5 320.0,2185.9 326.4,2191.5 331.8,2187.0 334.6,2191.5 337.9,2178.4 339.6,2174.0 341.4,2178.4 344.6,2191.5 349.1,2191.4 356.6,2187.1 362.8,2191.2 368.4,2191.5 371.6,2181.4 373.4,2178.0 375.1,2181.4 378.4,2191.5 383.1,2190.6 390.5,2186.2 397.4,2191.0 403.0,2191.5 407.6,2161.9 410.0,2152.0 412.4,2161.9 417.0,2191.5 422.5,2191.1 427.0,2191.5 430.2,2167.9 432.0,2160.0 433.8,2167.9 437.0,2191.5 438.2,2153.4 440.0,2152.0 445.7,2140.0 451.0,2127.0 457.8,2120.0 463.0,2122.0 467.0,2115.0 469.5,2103.0 472.3,2099.5 474.5,2112.0 476.0,2128.0 478.5,2131.0 483.0,2118.0 487.5,2106.0 491.8,2097.0 493.1,2081.7 494.7,2050.0 495.9,2020.7 497.3,1993.0 498.7,1965.3 500.2,1937.7 501.7,1910.0 502.3,1896.5 504.0,1862.7 506.6,1828.8 508.8,1798.0 510.0,1766.5 511.4,1735.0 512.9,1703.2 514.3,1671.6 515.7,1640.0 516.5,1615.7 517.7,1593.5 518.8,1577.0 519.6,1560.0 520.7,1543.7 522.0,1532.0 524.9,1523.5 527.8,1532.0 531.0,1543.7 533.8,1560.3 535.7,1577.0 537.4,1593.5 539.0,1615.7 540.4,1632.3 541.1,1640.0 543.6,1671.6 546.8,1703.2 550.3,1734.9 553.1,1766.5 556.0,1795.0 558.6,1820.4 561.1,1841.5 563.5,1858.0 566.2,1863.0 570.0,1858.0 573.0,1848.0 577.2,1839.4 580.5,1845.0 583.1,1862.7 588.9,1880.0 594.6,1899.7 599.2,1919.5 603.5,1942.0 607.9,1962.0 609.6,1939.0 612.1,1919.5 616.5,1904.7 621.0,1908.0 625.0,1920.0 629.8,1937.0 631.8,1910.0 634.3,1906.0 640.6,1905.0 643.7,1913.0 651.1,1899.2 659.6,1920.3 668.1,1907.7 674.4,1911.9 678.6,1892.9 685.0,1864.3 691.3,1882.3 695.5,1901.3 704.0,1899.2 712.5,1905.5 717.7,1924.6 720.9,1937.3 727.3,1919.3 734.7,1912.9 738.9,1903.4 741.0,1880.0 743.5,1845.0 745.5,1815.0 747.3,1803.6 749.5,1808.0 751.5,1830.0 754.0,1861.0 756.8,1892.9 761.1,1924.6 765.3,1945.7 771.6,1961.6 778.0,1975.3 780.8,1995.0 787.1,2008.0 795.5,1988.0 803.9,2005.0 811.0,2003.0 818.5,2012.0 823.2,1997.0 828.5,1981.0 835.9,1967.3 843.3,1959.9 849.6,1949.3 855.9,1939.8 862.3,1952.5 867.6,1967.3 872.9,1949.3 878.1,1920.7 883.4,1897.5 887.7,1894.3 896.1,1916.5 905.6,1894.3 910.9,1912.3 914.1,1930.3 922.5,1921.3 931.0,1951.4 936.3,1928.1 940.5,1915.5 947.9,1933.4 953.2,1927.1 959.5,1937.7 961.6,1950.3 968.0,1943.0 970.8,1944.0 975.0,1955.0 979.2,1973.3 983.4,1998.4 987.0,2000.0 991.8,1996.3 996.0,2003.0 1000.2,2015.2 1004.3,2045.0 1007.0,2070.9 1012.7,2085.0 1018.0,2105.0 1025.0,2115.0 1030.0,2108.0 1035.2,2111.8 1040.9,2134.4 1043.7,2169.6 1046.0,2187.6 1050.3,2192.5 1057.5,2189.5 1061.7,2192.0 1066.7,2187.8 1071.3,2191.8 1073.0,2192.5 1077.5,2167.0 1080.0,2158.5 1082.5,2167.0 1087.0,2192.5 1090.0,2188.2 1094.1,2191.8 1099.8,2189.2 1104.3,2191.9 1105.0,2192.5 1110.2,2150.1 1113.0,2136.0 1115.8,2150.1 1121.0,2192.5 1122.2,2188.3 1123.0,2192.5 1126.2,2161.4 1128.0,2151.0 1129.8,2161.4 1133.0,2192.5 1134.0,2192.5 1137.9,2158.4 1140.0,2147.0 1142.1,2158.4 1146.0,2192.5 1147.5,2189.6 1154.1,2192.0 1158.6,2189.9 1164.2,2192.5 1170.0,2192.5 1173.9,2163.6 1176.0,2154.0 1178.1,2163.6 1182.0,2192.5 1182.7,2187.7 1187.5,2192.2 1193.3,2189.3 1199.1,2192.1 1204.4,2188.3 1210.0,2192.4 1213.0,2192.5 1216.2,2173.4 1218.0,2167.0 1219.8,2173.4 1223.0,2192.5 1229.3,2187.6 1234.8,2192.2 1239.0,2187.8 1241.0,2192.5 1245.5,2159.1 1248.0,2148.0 1250.5,2159.1 1255.0,2192.5 1257.4,2188.7 1263.9,2192.0 1268.4,2188.3 1272.4,2192.2 1279.0,2187.7 1284.4,2191.9 1289.9,2188.7 1291.0,2192.5 1296.2,2146.4 1299.0,2131.0 1301.8,2146.4 1307.0,2192.5 1308.2,2192.0 1312.0,2192.5 1315.9,2166.6 1318.0,2158.0 1320.1,2166.6 1324.0,2192.5 1326.8,2190.0 1332.3,2192.0 1337.2,2189.6 1340.0,2192.5 1343.9,2157.6 1346.0,2146.0 1348.1,2157.6 1352.0,2192.5 1355.2,2192.2 1359.4,2189.5 1364.1,2191.9 1368.5,2189.3 1372.7,2192.1 1377.2,2189.1 1383.5,2191.8" stroke="#000000"/>
<path d="M263.0,2197.4 268.9,2200.0 273.7,2197.2 280.5,2200.0 285.0,2197.2 290.8,2200.2 297.9,2197.4 303.2,2199.9 309.1,2197.9 314.0,2200.2 318.0,2197.3 324.3,2200.2 331.0,2196.6 336.6,2200.1 340.9,2198.4 348.0,2200.3 352.5,2196.7 358.8,2200.4 363.8,2198.0 368.5,2200.5 374.1,2197.9 379.2,2200.4 383.5,2198.4 390.2,2200.1 395.9,2198.3 400.2,2200.4 405.1,2198.4 409.9,2200.4 414.4,2197.2 419.7,2200.2 424.8,2197.4 431.2,2200.3 435.3,2197.5 440.4,2200.0 444.6,2196.8 448.5,2200.2 453.8,2197.9 460.6,2200.1 465.0,2197.5 470.9,2200.5 475.0,2197.3 481.2,2200.2 486.5,2197.5 491.2,2200.0 498.2,2197.5 502.1,2200.3 508.6,2197.9 512.8,2200.4 519.0,2197.3 523.8,2200.1 530.2,2196.6 546.3,2182.6 561.1,2190.0 569.6,2171.0 587.6,2163.6 598.1,2165.7 611.9,2164.7 618.2,2153.0 622.5,2144.6 632.0,2152.0 645.7,2158.3 664.7,2150.9 675.3,2158.3 683.2,2139.4 695.9,2160.5 706.4,2156.3 732.9,2151.0 745.5,2148.9 754.0,2159.5 768.8,2172.1 783.6,2149.4 801.6,2174.2 817.4,2158.4 825.3,2152.1 835.0,2168.0 847.0,2164.0 860.0,2160.0 883.4,2154.2 901.7,2166.0 910.9,2156.4 924.7,2157.6 937.3,2157.6 952.0,2166.0 966.6,2159.7 983.4,2159.7 998.1,2166.0 1008.5,2163.9 1020.0,2162.0 1030.0,2180.0 1035.0,2197.4 1040.8,2200.0 1047.6,2196.7 1052.7,2199.9 1057.9,2197.9 1062.1,2200.2 1066.4,2198.0 1072.3,2200.0 1078.6,2198.3 1082.7,2200.3 1088.3,2196.8 1094.8,2199.9 1100.6,2197.2 1105.4,2200.3 1110.0,2197.4 1115.8,2200.2 1121.0,2197.7 1125.6,2200.0 1131.4,2197.0 1137.9,2200.3 1142.2,2197.9 1149.0,2200.0 1154.2,2196.9 1159.2,2200.0 1163.3,2197.0 1170.4,2200.2 1175.8,2198.2 1180.5,2200.4 1185.4,2198.4 1190.2,2200.4 1195.8,2197.7 1200.4,2199.9 1205.3,2197.4 1212.1,2200.0 1219.1,2197.3 1225.8,2200.5 1232.1,2197.8 1237.0,2200.0 1243.3,2197.8 1248.4,2200.3 1255.3,2197.3 1260.0,2200.2 1264.0,2198.0 1269.5,2199.9 1276.2,2197.4 1282.6,2200.3 1288.7,2196.5 1293.1,2199.9 1300.2,2197.8 1306.7,2199.9 1311.1,2197.6 1316.9,2200.0 1321.6,2197.0 1327.8,2200.0 1334.1,2196.8 1339.9,2200.2 1345.3,2197.7 1350.6,2200.2 1355.8,2198.2 1361.0,2199.9 1365.8,2196.5 1372.4,2200.2 1377.0,2196.7 1384.0,2200.3" stroke="#ff0000"/>
<path d="M263.0,2197.5 267.2,2200.1 273.3,2197.1 277.5,2200.3 283.9,2197.1 290.2,2199.9 294.5,2195.9 299.8,2200.1 307.0,2197.2 310.9,2199.7 316.1,2196.9 321.0,2200.2 328.0,2196.9 332.6,2200.0 338.2,2194.6 344.8,2200.2 349.4,2195.0 356.5,2200.5 362.7,2194.9 368.7,2200.3 375.2,2195.3 379.7,2199.9 384.3,2197.4 389.2,2200.2 394.4,2195.6 401.0,2199.6 408.1,2194.5 414.5,2200.2 419.0,2195.6 424.6,2199.9 428.8,2196.9 435.7,2200.0 441.8,2197.2 447.0,2199.7 453.0,2194.5 457.5,2200.1 464.0,2196.2 470.4,2200.0 474.7,2197.2 481.8,2200.4 486.2,2196.5 492.5,2199.7 501.4,2182.2 510.0,2180.0 520.4,2186.6 528.0,2190.0 535.1,2193.9 540.0,2186.8 545.3,2176.3 555.9,2171.0 563.3,2155.1 571.7,2152.0 582.3,2146.7 590.7,2136.1 598.1,2131.9 607.7,2140.3 617.2,2124.5 624.0,2133.0 629.9,2140.3 645.7,2144.6 661.6,2138.2 677.4,2148.8 690.6,2143.6 700.1,2140.4 711.7,2148.9 724.4,2152.1 737.1,2160.5 748.7,2151.5 760.3,2156.3 769.9,2168.0 778.3,2156.3 788.9,2161.6 796.3,2156.3 806.8,2174.2 817.4,2172.1 829.0,2166.8 841.1,2158.5 860.0,2160.0 878.1,2157.4 899.3,2153.2 912.0,2151.6 931.0,2158.5 946.8,2152.1 957.4,2157.4 968.0,2160.6 985.5,2166.0 998.1,2162.0 1008.5,2163.0 1020.0,2166.0 1030.0,2180.0 1035.0,2197.3 1039.6,2200.2 1046.4,2196.0 1052.6,2200.4 1058.1,2195.0 1063.7,2199.6 1070.5,2196.4 1074.3,2199.8 1078.6,2197.5 1084.8,2199.7 1091.5,2194.6 1096.0,2200.4 1100.2,2194.6 1104.4,2200.4 1108.4,2197.4 1112.3,2200.2 1116.7,2196.6 1123.6,2200.3 1130.2,2195.3 1135.9,2200.0 1142.3,2195.7 1146.9,2200.2 1151.6,2196.3 1158.7,2200.1 1162.7,2196.1 1169.3,2200.1 1175.4,2197.2 1179.5,2199.9 1183.5,2196.6 1188.6,2200.3 1192.6,2197.5 1199.6,2199.9 1206.6,2196.0 1213.6,2199.7 1219.5,2195.9 1225.0,2200.3 1230.1,2195.3 1234.6,2199.7 1240.1,2195.7 1246.7,2199.9 1251.0,2196.8 1254.8,2200.5 1261.8,2195.7 1268.9,2199.8 1273.8,2194.6 1280.7,2200.1 1284.8,2196.5 1289.2,2200.2 1293.3,2195.4 1300.4,2200.3 1306.8,2195.7 1312.3,2199.7 1317.3,2195.0 1321.3,2199.6 1325.8,2197.5 1332.5,2199.9 1338.6,2195.2 1343.7,2200.4 1348.6,2194.6 1355.7,2200.3 1361.0,2196.1 1367.8,2200.5 1374.4,2196.7 1380.1,2200.4 1384.2,2194.9" stroke="#0000ff"/>
<path d="M263.0,2194.0 268.4,2201.1 273.7,2194.2 279.1,2201.8 286.8,2196.4 292.6,2202.1 298.1,2191.5 303.5,2201.5 309.2,2193.0 315.0,2202.2 320.8,2194.8 327.8,2201.6 332.7,2193.3 338.0,2201.7 343.0,2194.7 350.0,2201.6 356.9,2192.8 363.2,2201.4 368.9,2193.6 375.9,2202.3 383.4,2195.0 388.1,2202.3 393.6,2196.6 399.2,2201.8 405.8,2194.4 413.3,2201.4 418.7,2192.2 425.4,2200.9 432.2,2191.7 437.2,2202.0 444.9,2196.9 452.4,2201.0 457.1,2196.2 464.6,2200.9 471.9,2193.0 478.9,2202.0 483.1,2193.5 490.5,2200.9 496.5,2197.0 501.3,2201.8 513.1,2191.0 527.7,2180.0 540.0,2165.7 550.6,2155.1 561.1,2144.6 569.6,2134.0 574.9,2121.3 580.2,2115.0 587.6,2110.7 596.0,2106.5 606.6,2116.0 617.2,2102.3 624.6,2110.7 635.1,2104.4 643.6,2117.1 652.1,2107.6 661.6,2116.0 670.0,2107.6 678.5,2118.1 694.8,2111.9 706.4,2116.1 722.3,2116.1 745.5,2114.0 754.0,2128.8 769.9,2133.0 777.3,2135.1 801.6,2133.0 809.0,2135.1 819.5,2141.5 829.0,2141.5 841.1,2152.1 864.4,2139.5 878.1,2145.8 894.0,2141.6 904.6,2139.5 920.4,2144.7 936.3,2144.7 946.8,2136.3 957.4,2146.8 968.0,2152.1 983.4,2153.4 996.0,2153.4 1005.0,2153.0 1015.0,2155.0 1022.0,2160.0 1030.0,2180.0 1035.0,2194.0 1040.2,2202.5 1046.8,2195.8 1051.9,2201.8 1058.4,2191.6 1064.3,2200.9 1072.1,2195.7 1076.5,2202.2 1083.8,2193.7 1091.3,2200.9 1097.8,2194.1 1102.3,2202.5 1109.4,2193.3 1116.3,2201.6 1122.9,2193.5 1130.4,2202.3 1136.3,2195.3 1143.5,2201.1 1148.6,2196.6 1153.7,2202.0 1160.7,2194.7 1167.6,2202.0 1173.7,2196.0 1180.2,2201.7 1187.5,2191.8 1193.6,2202.4 1201.1,2191.8 1207.0,2201.7 1214.6,2195.6 1219.7,2201.4 1226.3,2193.2 1233.5,2201.7 1239.2,2195.8 1244.2,2201.9 1250.0,2192.9 1256.4,2201.7 1262.0,2193.6 1267.5,2201.2 1274.1,2193.2 1279.6,2201.6 1286.4,2191.7 1292.5,2202.0 1299.2,2196.3 1304.6,2202.4 1310.8,2195.6 1316.4,2201.2 1322.9,2196.8 1328.7,2202.5 1335.8,2194.3 1343.1,2202.1 1350.3,2196.2 1357.6,2201.9 1362.0,2192.0 1369.3,2202.2 1375.5,2194.4 1380.2,2201.8" stroke="#ff00ff"/>
<path d="M263.0,2193.9 270.3,2199.4 275.6,2196.2 281.8,2200.5 286.4,2168.6 288.8,2158.0 291.2,2168.6 295.8,2200.5 301.1,2196.2 309.2,2199.8 314.1,2193.1 321.7,2199.6 328.8,2192.5 333.4,2199.3 337.8,2200.5 341.7,2180.6 343.8,2174.0 345.9,2180.6 349.8,2200.5 354.5,2193.7 361.0,2200.4 367.1,2195.3 374.6,2199.4 382.2,2194.4 387.4,2199.7 393.0,2192.5 398.2,2199.3 402.8,2193.4 408.7,2199.8 414.9,2195.3 418.1,2200.5 422.0,2187.4 424.1,2183.0 426.2,2187.4 430.1,2200.5 434.7,2200.3 440.6,2194.4 447.2,2200.3 454.7,2194.5 459.6,2200.1 464.4,2195.1 469.4,2200.2 476.1,2193.7 481.8,2199.9 488.4,2194.2 495.0,2185.0 502.0,2170.0 509.0,2143.0 511.7,2138.8 515.0,2125.0 518.3,2113.4 521.5,2095.0 524.4,2081.7 528.0,2052.0 533.6,2030.1 540.9,2025.7 546.0,2035.0 551.1,2041.8 556.0,2040.0 562.8,2056.4 571.7,2066.3 580.2,2075.9 587.6,2082.2 598.1,2084.3 606.6,2089.6 618.2,2077.4 629.9,2094.9 635.1,2076.9 647.8,2093.8 655.5,2078.1 664.0,2085.0 670.0,2082.0 675.0,2072.7 679.5,2100.2 690.6,2098.1 699.0,2095.0 707.5,2105.0 717.0,2086.5 724.4,2103.4 732.9,2111.9 741.3,2128.3 756.1,2112.9 764.6,2122.5 775.1,2111.4 785.7,2133.0 792.0,2139.4 801.6,2124.6 812.1,2125.6 820.0,2125.7 828.0,2128.0 838.0,2123.1 850.7,2140.0 862.3,2123.6 872.9,2119.4 883.4,2113.0 897.2,2121.5 905.6,2107.2 915.1,2133.6 926.8,2113.0 935.2,2134.2 944.7,2113.6 957.4,2131.0 966.6,2140.9 979.2,2130.4 987.6,2147.2 998.1,2153.4 1002.8,2162.6 1008.5,2176.7 1014.1,2183.7 1021.1,2178.0 1028.2,2183.7 1033.8,2195.0 1036.0,2196.0 1041.1,2199.8 1046.3,2196.0 1052.7,2200.0 1058.0,2194.9 1065.9,2200.3 1071.2,2196.4 1076.6,2200.4 1085.0,2195.2 1093.4,2200.3 1100.0,2200.5 1103.9,2173.1 1106.0,2164.0 1108.1,2173.1 1112.0,2200.5 1114.4,2195.6 1121.6,2200.3 1126.2,2193.4 1133.2,2200.2 1139.8,2192.9 1145.4,2200.4 1151.6,2195.8 1157.6,2200.5 1165.1,2193.3 1171.1,2200.0 1176.7,2192.7 1184.6,2199.7 1189.9,2195.8 1197.4,2200.3 1204.6,2194.8 1209.3,2200.3 1217.4,2195.2 1224.6,2199.6 1230.7,2194.5 1238.6,2199.6 1245.2,2194.3 1251.5,2200.0 1258.7,2195.5 1262.0,2200.5 1265.2,2179.9 1267.0,2173.0 1268.8,2179.9 1272.0,2200.5 1272.0,2192.6 1273.0,2200.5 1276.9,2168.6 1279.0,2158.0 1281.1,2168.6 1285.0,2200.5 1291.1,2199.7 1297.7,2196.5 1306.0,2200.1 1312.0,2195.6 1317.3,2200.4 1322.4,2193.8 1328.1,2199.9 1335.2,2196.2 1342.7,2200.3 1350.4,2192.9 1356.7,2200.1 1363.2,2192.9 1371.6,2199.6 1377.7,2194.9 1385.0,2200.1" stroke="#008000"/>
<path d="M263.0,2192.5 270.5,2201.5 275.5,2188.5 282.0,2203.4 289.6,2193.5 294.9,2202.5 301.2,2194.5 307.9,2201.5 314.0,2189.1 320.4,2201.5 325.3,2192.6 331.2,2203.3 338.9,2190.4 343.4,2202.1 349.1,2194.0 353.9,2202.4 358.3,2191.0 364.4,2203.2 371.7,2195.2 376.6,2201.5 381.6,2192.1 385.1,2203.5 390.3,2194.1 393.1,2191.0 395.9,2194.1 401.1,2203.5 406.8,2193.2 411.2,2202.5 418.1,2203.5 422.0,2187.4 424.1,2182.0 426.2,2187.4 430.1,2203.5 434.6,2203.3 437.0,2203.5 440.9,2186.6 443.0,2181.0 445.1,2186.6 449.0,2203.5 452.9,2193.7 456.0,2203.5 459.9,2186.6 462.0,2181.0 464.1,2186.6 468.0,2203.5 469.4,2202.0 475.6,2191.9 480.9,2202.3 486.7,2190.0 492.6,2192.7 496.4,2183.2 502.2,2164.2 505.0,2152.0 512.0,2149.0 519.3,2149.0 522.5,2130.0 525.0,2115.0 527.7,2095.9 533.6,2066.7 539.4,2044.7 546.8,2033.0 554.1,2022.8 561.4,2030.1 568.7,2037.4 574.5,2033.0 583.0,2030.0 593.5,2032.3 605.0,2038.0 616.8,2045.0 625.0,2055.0 632.3,2064.0 640.0,2070.0 646.0,2073.0 655.5,2062.0 664.5,2078.0 671.0,2060.0 675.3,2066.0 683.2,2064.3 690.6,2051.6 699.0,2051.6 705.0,2058.0 711.7,2061.1 720.2,2052.7 727.6,2061.1 735.0,2085.5 743.4,2067.5 749.8,2081.2 756.1,2076.0 764.6,2096.0 775.1,2071.7 783.0,2080.0 792.0,2086.5 801.6,2097.1 811.1,2105.0 820.6,2086.5 830.6,2094.0 839.0,2095.0 848.5,2103.5 857.0,2096.1 864.4,2101.4 872.9,2083.4 883.4,2083.4 891.0,2086.0 899.3,2088.7 913.0,2072.3 923.6,2083.4 936.3,2072.9 946.8,2068.1 957.4,2087.7 968.0,2085.5 977.1,2096.9 989.7,2092.7 996.0,2105.3 1002.3,2110.0 1010.0,2108.0 1014.1,2106.2 1018.3,2141.4 1021.1,2169.6 1028.0,2185.0 1030.0,2189.5 1034.9,2203.0 1041.3,2195.0 1048.3,2201.7 1052.6,2190.0 1058.6,2202.0 1066.3,2187.6 1072.0,2201.5 1079.0,2187.7 1083.3,2201.2 1088.3,2194.5 1094.6,2201.5 1102.3,2192.6 1109.5,2203.4 1117.1,2193.2 1123.3,2203.2 1127.7,2195.4 1134.0,2202.2 1141.2,2188.7 1146.9,2201.5 1151.8,2188.5 1156.9,2201.2 1162.5,2192.1 1168.6,2203.4 1173.0,2191.1 1179.8,2203.4 1185.5,2192.5 1192.5,2201.1 1197.0,2191.2 1201.6,2201.6 1209.2,2189.8 1215.5,2203.4 1216.4,2203.5 1220.3,2185.9 1222.4,2180.0 1224.5,2185.9 1228.4,2203.5 1232.2,2192.7 1238.3,2203.5 1242.2,2182.9 1244.3,2176.0 1246.4,2182.9 1250.3,2203.5 1253.3,2202.7 1259.2,2192.4 1263.5,2203.4 1269.8,2191.3 1277.5,2202.0 1284.6,2191.7 1290.9,2201.5 1295.2,2195.3 1301.0,2202.8 1301.0,2203.5 1304.9,2188.1 1307.0,2183.0 1309.1,2188.1 1313.0,2203.5 1317.9,2195.2 1322.2,2201.9 1327.9,2195.3 1335.5,2202.3 1343.1,2190.3 1349.3,2202.6 1353.8,2187.8 1359.6,2202.8 1364.3,2190.7 1372.1,2202.5 1379.2,2189.9" stroke="#000080"/>
<path d="M263.0,2198.7 263.5,2203.5 268.1,2180.6 270.5,2173.0 272.9,2180.6 277.5,2203.5 283.8,2203.1 289.3,2200.5 296.0,2203.3 302.8,2200.9 308.1,2203.0 314.8,2199.7 322.8,2203.2 326.5,2203.5 330.4,2190.4 332.5,2186.0 334.6,2190.4 338.5,2203.5 342.8,2198.6 349.2,2202.9 355.7,2199.6 363.3,2203.3 366.0,2203.5 369.9,2186.6 372.0,2181.0 374.1,2186.6 378.0,2203.5 383.3,2199.4 388.9,2203.4 395.2,2199.0 400.9,2203.4 401.2,2203.5 405.1,2188.1 407.2,2183.0 409.3,2188.1 413.2,2203.5 420.6,2200.2 427.1,2203.3 433.3,2199.1 440.5,2203.3 443.5,2203.5 447.4,2188.1 449.5,2183.0 451.6,2188.1 452.0,2203.5 455.9,2186.6 458.0,2181.0 460.1,2186.6 464.0,2203.5 468.4,2203.1 477.2,2200.6 482.0,2188.0 487.9,2176.8 491.4,2157.8 497.4,2132.4 501.0,2118.0 505.0,2110.0 509.0,2105.0 511.2,2098.0 513.1,2081.7 516.9,2050.0 520.0,2020.7 523.1,1993.0 527.7,1964.3 533.6,1936.0 538.7,1926.6 545.3,1942.4 551.1,1967.2 558.5,1986.2 562.8,2015.5 571.6,2005.3 578.9,2022.8 584.8,2037.4 590.0,2041.4 597.0,2042.2 604.0,2048.0 611.1,2057.7 618.0,2052.0 625.2,2047.8 632.0,2046.0 639.3,2039.3 645.0,2027.0 651.3,2019.2 660.5,2032.3 668.9,2030.9 678.1,2045.0 683.0,2030.0 687.3,2018.2 690.6,2007.6 695.9,1986.4 701.1,1977.4 706.4,1997.0 711.7,2018.1 718.1,2027.7 725.5,2029.8 732.9,2020.3 739.2,2015.5 743.4,2031.9 748.7,2046.7 754.0,2054.0 762.5,2066.4 772.0,2048.5 777.3,2047.7 785.7,2066.4 795.0,2068.0 804.7,2077.0 813.2,2068.9 820.0,2064.4 830.6,2070.7 839.0,2079.2 848.5,2094.0 857.0,2083.4 864.4,2065.5 877.1,2055.4 885.0,2062.0 891.9,2072.3 900.3,2051.7 913.0,2039.6 919.0,2048.0 925.7,2063.3 934.2,2049.6 941.6,2039.0 946.8,2028.5 953.0,2018.0 958.0,2000.0 962.7,1975.7 966.0,1958.0 969.5,1953.0 973.0,1962.0 976.0,1985.0 979.2,2011.0 985.5,2025.7 992.0,2025.0 998.1,2024.0 1003.0,2015.0 1007.0,2013.2 1014.1,2021.6 1019.7,2042.8 1022.6,2070.9 1026.8,2099.1 1029.6,2127.3 1032.4,2155.5 1036.6,2180.9 1040.0,2199.2 1048.4,2203.4 1057.5,2200.5 1065.2,2203.4 1073.3,2200.6 1075.0,2203.5 1079.5,2180.6 1082.0,2173.0 1084.5,2180.6 1089.0,2203.5 1089.3,2199.9 1097.8,2202.8 1103.2,2199.7 1112.2,2202.9 1118.9,2200.2 1127.8,2203.4 1135.9,2198.9 1141.5,2203.3 1147.7,2199.6 1154.1,2202.8 1162.9,2200.2 1171.5,2203.4 1176.8,2199.3 1185.0,2203.5 1191.5,2186.6 1195.0,2181.0 1198.5,2186.6 1205.0,2203.5 1209.0,2200.8 1215.9,2203.4 1221.5,2199.8 1229.2,2202.8 1234.6,2199.7 1243.7,2202.9 1250.8,2200.4 1258.4,2203.3 1266.0,2199.4 1267.0,2203.5 1270.9,2185.9 1273.0,2180.0 1275.1,2185.9 1279.0,2203.5 1279.1,2199.8 1287.5,2203.3 1293.2,2199.6 1297.0,2203.5 1300.9,2191.9 1303.0,2188.0 1305.1,2191.9 1309.0,2203.5 1311.0,2203.2 1317.2,2199.9 1325.3,2203.5 1334.4,2199.2 1336.0,2203.5 1339.9,2190.4 1342.0,2186.0 1344.1,2190.4 1348.0,2203.5 1350.0,2200.0 1356.6,2203.3 1359.0,2203.5 1362.9,2183.6 1365.0,2177.0 1367.1,2183.6 1371.0,2203.5 1373.0,2203.5 1376.2,2176.9 1378.0,2168.0 1379.8,2176.9 1383.0,2203.5" stroke="#9000ff"/>
<path d="M263.5,2177.4 270.0,2185.0 276.1,2196.4 280.0,2175.0 284.6,2158.4 289.0,2170.0 293.1,2187.3 298.0,2170.0 302.2,2152.7 308.6,2167.5 311.4,2195.7 318.4,2174.6 325.0,2178.0 332.5,2171.0 338.0,2180.0 345.2,2194.3 350.0,2180.0 355.8,2166.8 364.9,2177.4 369.2,2191.5 373.4,2180.2 378.0,2182.0 384.7,2187.3 392.4,2168.2 400.2,2177.4 407.2,2155.5 415.7,2164.7 424.1,2166.1 432.6,2168.9 438.2,2180.2 443.5,2191.0 448.0,2175.0 452.7,2157.8 455.5,2140.0 457.8,2131.2 461.0,2135.0 464.5,2148.0 468.5,2164.2 472.5,2193.0 475.5,2177.0 479.5,2160.0 483.1,2145.0 487.0,2125.0 490.7,2113.4 494.2,2081.7 497.1,2050.0 499.6,2020.7 501.2,1993.0 502.9,1965.3 504.4,1937.7 505.4,1910.0 505.9,1896.5 506.8,1862.7 508.5,1828.8 510.0,1796.0 511.2,1766.5 512.3,1734.9 513.9,1703.2 515.6,1671.6 518.0,1642.0 520.2,1630.0 521.7,1615.7 523.5,1600.0 525.5,1585.0 527.5,1574.0 529.6,1570.5 531.5,1574.0 533.0,1585.0 534.2,1600.0 534.9,1615.7 536.2,1630.0 537.6,1640.0 539.3,1671.6 541.4,1703.2 543.8,1734.9 546.5,1766.5 549.5,1796.0 551.8,1828.8 554.1,1862.7 556.5,1888.0 558.5,1906.0 561.0,1912.0 564.0,1910.0 567.5,1900.0 570.0,1885.0 573.0,1874.5 576.0,1880.0 579.5,1898.0 582.5,1912.0 586.0,1930.0 590.9,1947.0 595.0,1938.0 599.7,1933.3 605.0,1950.0 610.1,1969.0 615.0,1950.0 621.9,1935.3 628.0,1950.0 634.0,1968.0 639.2,1975.7 645.9,1951.0 651.1,1945.2 657.0,1950.0 664.9,1938.3 672.3,1956.3 676.5,1977.4 680.3,1995.0 685.0,1945.7 689.2,1940.4 697.7,1946.8 705.1,1941.5 709.3,1966.8 712.5,1984.8 719.1,1985.4 727.6,1997.0 733.0,1990.0 739.2,1985.9 745.5,2002.3 751.9,2023.4 756.1,2031.9 764.6,2035.1 773.0,2036.1 781.5,2031.9 791.0,2025.5 796.3,2039.3 801.6,2057.3 806.8,2061.5 813.2,2052.0 820.6,2053.0 825.0,2055.0 830.6,2059.1 836.0,2035.0 839.5,2020.0 843.3,2011.1 846.5,2025.0 850.7,2051.7 853.8,2069.2 860.2,2046.4 866.5,2030.6 872.9,2013.0 877.0,1995.0 882.4,1974.1 889.1,2004.7 895.4,2025.7 902.0,2015.0 909.9,2002.1 917.3,2010.6 926.8,1997.4 936.3,2007.4 941.6,2014.8 949.0,2013.8 955.0,2025.0 961.6,2043.3 968.0,2030.6 972.9,2015.2 983.4,2006.8 989.7,2036.1 993.9,2078.0 1000.0,2092.1 1005.6,2099.1 1011.3,2120.3 1014.1,2134.4 1021.1,2141.4 1028.2,2152.7 1032.4,2171.7 1038.1,2155.5 1045.1,2142.8 1052.1,2155.5 1056.4,2193.6 1064.8,2168.2 1074.7,2178.0 1081.7,2183.7 1091.6,2182.3 1098.7,2172.4 1105.7,2165.4 1115.6,2172.4 1122.6,2186.5 1132.5,2169.6 1140.9,2180.9 1153.6,2161.8 1160.7,2172.4 1167.7,2159.7 1174.8,2172.4 1180.4,2183.7 1190.3,2172.4 1198.5,2177.4 1206.2,2164.7 1215.4,2177.4 1223.8,2166.8 1232.3,2188.7 1240.7,2164.0 1250.6,2171.7 1257.7,2181.6 1267.5,2150.6 1274.6,2160.5 1281.6,2159.1 1290.1,2195.0 1298.5,2161.9 1307.0,2170.3 1312.6,2168.9 1319.7,2185.8 1329.5,2173.2 1333.8,2188.7 1342.2,2161.9 1349.3,2174.6 1353.5,2191.5 1364.8,2154.8 1371.8,2181.6 1377.5,2166.1 1382.0,2164.7" stroke="#ff8000"/>
</g>
<rect x="1026" y="74" width="309.4000000000001" height="444" fill="#fff" stroke="#000" stroke-width="2"/>
<line x1="1041.5" y1="106.9" x2="1141.1" y2="106.9" stroke="#000000" stroke-width="11.3" stroke-linecap="round"/>
<text transform="translate(1151.5,122.5) scale(0.962,1)" class="lr">saturation</text>
<line x1="1041.5" y1="162.0" x2="1141.1" y2="162.0" stroke="#ff0000" stroke-width="11.3" stroke-linecap="round"/>
<text transform="translate(1151.5,177.6) scale(0.962,1)" class="lr">0 h</text>
<line x1="1041.5" y1="217.1" x2="1141.1" y2="217.1" stroke="#0000ff" stroke-width="11.3" stroke-linecap="round"/>
<text transform="translate(1151.5,232.7) scale(0.962,1)" class="lr">1 h</text>
<line x1="1041.5" y1="272.2" x2="1141.1" y2="272.2" stroke="#ff00ff" stroke-width="11.3" stroke-linecap="round"/>
<text transform="translate(1151.5,287.8) scale(0.962,1)" class="lr">4 h</text>
<line x1="1041.5" y1="327.3" x2="1141.1" y2="327.3" stroke="#008000" stroke-width="11.3" stroke-linecap="round"/>
<text transform="translate(1151.5,342.9) scale(0.962,1)" class="lr">9 h</text>
<line x1="1041.5" y1="382.4" x2="1141.1" y2="382.4" stroke="#000080" stroke-width="11.3" stroke-linecap="round"/>
<text transform="translate(1151.5,398.0) scale(0.962,1)" class="lr">25 h</text>
<line x1="1041.5" y1="437.5" x2="1141.1" y2="437.5" stroke="#9000ff" stroke-width="11.3" stroke-linecap="round"/>
<text transform="translate(1151.5,453.1) scale(0.962,1)" class="lr">49 h</text>
<line x1="1041.5" y1="492.6" x2="1141.1" y2="492.6" stroke="#ff8000" stroke-width="11.3" stroke-linecap="round"/>
<text transform="translate(1151.5,508.2) scale(0.962,1)" class="lr">81 h</text>
<rect x="1027.5" y="1431" width="332.79999999999995" height="441.29999999999995" fill="#fff" stroke="#000" stroke-width="2"/>
<line x1="1045.0" y1="1463.6" x2="1143.1" y2="1463.6" stroke="#000000" stroke-width="11.3" stroke-linecap="round"/>
<text transform="translate(1157,1479.1) scale(1.0,1)" class="ls">saturation</text>
<line x1="1045.0" y1="1518.4" x2="1143.1" y2="1518.4" stroke="#ff0000" stroke-width="11.3" stroke-linecap="round"/>
<text transform="translate(1157,1533.9) scale(1.0,1)" class="ls">0h</text>
<line x1="1045.0" y1="1573.3" x2="1143.1" y2="1573.3" stroke="#0000ff" stroke-width="11.3" stroke-linecap="round"/>
<text transform="translate(1157,1588.8) scale(1.0,1)" class="ls">1h</text>
<line x1="1045.0" y1="1628.1" x2="1143.1" y2="1628.1" stroke="#ff00ff" stroke-width="11.3" stroke-linecap="round"/>
<text transform="translate(1157,1643.6) scale(1.0,1)" class="ls">4h</text>
<line x1="1045.0" y1="1683.0" x2="1143.1" y2="1683.0" stroke="#008000" stroke-width="11.3" stroke-linecap="round"/>
<text transform="translate(1157,1698.5) scale(1.0,1)" class="ls">9h</text>
<line x1="1045.0" y1="1737.8" x2="1143.1" y2="1737.8" stroke="#000080" stroke-width="11.3" stroke-linecap="round"/>
<text transform="translate(1157,1753.3) scale(1.0,1)" class="ls">25h</text>
<line x1="1045.0" y1="1792.7" x2="1143.1" y2="1792.7" stroke="#9000ff" stroke-width="11.3" stroke-linecap="round"/>
<text transform="translate(1157,1808.2) scale(1.0,1)" class="ls">49h</text>
<line x1="1045.0" y1="1847.5" x2="1143.1" y2="1847.5" stroke="#ff8000" stroke-width="11.3" stroke-linecap="round"/>
<text transform="translate(1157,1863.0) scale(1.0,1)" class="ls">81h</text>
<text x="591" y="979.2" class="at">Frequency offset (KHz)</text>
<text transform="translate(52.5,595.5) rotate(-90)" x="0" y="0" class="at2">NMR signal (a.u.)</text>
<text x="591" y="2329.2" class="at">Frequency offset (KHz)</text>
<text transform="translate(52.5,1945.5) rotate(-90)" x="0" y="0" class="at2">NMR signal (a.u.)</text>
<text x="656.5" y="1149.5" class="cap">(<tspan font-weight="bold">a</tspan>)</text>
<text transform="translate(736,1149.5) scale(1.081,1)" class="cap2">Group J</text>
<text transform="translate(642.5,2500) scale(1.05,1)" class="cap">(<tspan font-weight="bold">b</tspan>)</text>
<text transform="translate(726.5,2500) scale(1.087,1)" class="cap2">Group K</text>
</svg></body></html>
